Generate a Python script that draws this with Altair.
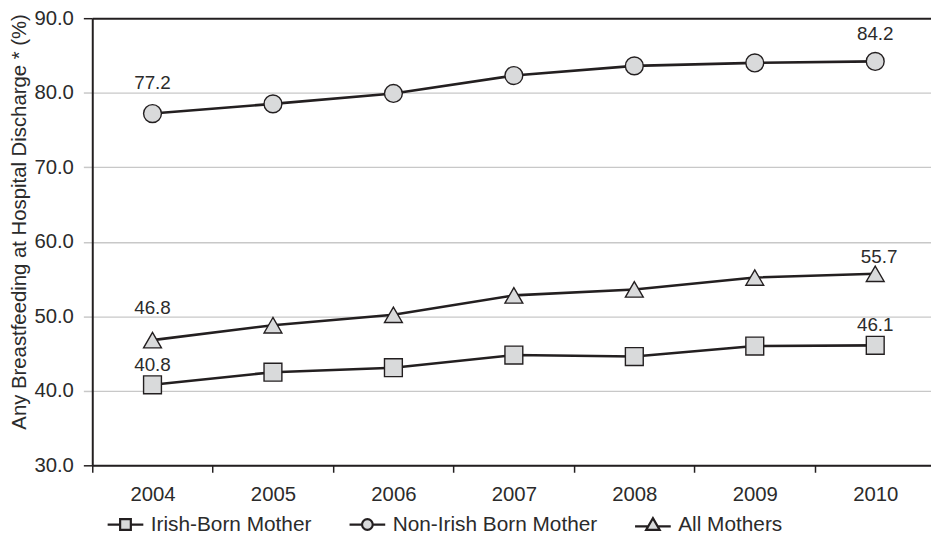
import altair as alt
import pandas as pd

years = [2004, 2005, 2006, 2007, 2008, 2009, 2010]
irish_born = [40.8, 42.5, 43.1, 44.8, 44.6, 46.0, 46.1]
non_irish_born = [77.2, 78.5, 79.9, 82.3, 83.6, 84.0, 84.2]
all_mothers = [46.8, 48.8, 50.2, 52.8, 53.6, 55.2, 55.7]
series_names = ["Irish-Born Mother", "Non-Irish Born Mother", "All Mothers"]
y_ticks = [30, 40, 50, 60, 70, 80, 90]
year_edges = [2003.5, 2004.5, 2005.5, 2006.5, 2007.5, 2008.5, 2009.5]

rows = []
for name, vals in zip(series_names, [irish_born, non_irish_born, all_mothers]):
    for yr, v in zip(years, vals):
        rows.append({"year": yr, "series": name, "value": v})
df = pd.DataFrame(rows)

FONT = "Liberation Sans"
INK = "#231f20"
TXT = "#2b2b2b"
FILL = "#d9dadb"
GRID = "#c8c8c8"
W, H = 846, 451
STEP = 121.5  # pixels per year in the reference

x_scale = alt.Scale(domain=[2003.5, 2003.5 + W / STEP], nice=False, zero=False)
y_scale = alt.Scale(domain=[30, 90], nice=False, zero=False)

x_axis = alt.Axis(
    title=None, values=year_edges, labelExpr="format(datum.value + 0.5, 'd')",
    labelOffset=STEP / 2, labelFlush=False, labelOverlap=False, labelAngle=0, grid=False,
    domainColor=INK, domainWidth=2, tickColor=INK, tickWidth=1.5, tickSize=7,
    labelFont=FONT, labelFontSize=20.5, labelColor=TXT, labelPadding=12,
)
y_axis = alt.Axis(
    values=y_ticks, format=".1f",
    title="Any Breastfeeding at Hospital Discharge * (%)",
    titleFont=FONT, titleFontSize=20.5, titleFontWeight="normal", titleColor=TXT,
    titleAngle=-90, titleX=-73, titleY=205, titleAlign="center", titleBaseline="middle",
    labelFont=FONT, labelFontSize=20.5, labelColor=TXT, labelPadding=10,
    tickSize=9, tickWidth=1.5,
    tickColor=alt.condition("datum.value == 90 || datum.value == 30", alt.value(INK), alt.value(GRID)),
    gridColor=alt.condition("datum.value == 90", alt.value(INK), alt.value(GRID)),
    gridWidth=alt.condition("datum.value == 90", alt.value(2), alt.value(1.3)),
    domainColor=INK, domainWidth=2,
)

X = alt.X("year:Q", scale=x_scale, axis=x_axis)
Xn = alt.X("year:Q", scale=x_scale)
Y = alt.Y("value:Q", scale=y_scale, axis=y_axis)
Yn = alt.Y("value:Q", scale=y_scale)

base = alt.Chart(df)

lines = base.mark_line(color=INK, strokeWidth=2.6).encode(x=X, y=Y, detail="series:N")

points = base.mark_point(filled=True, fill=FILL, stroke=INK, strokeWidth=1.4, opacity=1).encode(
    x=Xn, y=Yn,
    shape=alt.Shape("series:N", scale=alt.Scale(domain=series_names, range=["square", "circle", "triangle-up"]), legend=None),
    size=alt.Size("series:N", scale=alt.Scale(domain=series_names, range=[324, 324, 361]), legend=None),
)

legend_paths = [
    "M-1,0H-0.3M0.3,0H1M-0.3,-0.3H0.3V0.3H-0.3Z",
    "M-1,0H-0.3M0.3,0H1M-0.3,0A0.3,0.3 0 1,0 0.3,0A0.3,0.3 0 1,0 -0.3,0Z",
    "M-1,0.1H-0.24M0.24,0.1H1M0,-0.36L0.38,0.3L-0.38,0.3Z",
]
legend_layer = base.transform_filter("false").mark_point(
    filled=False, fill=FILL, stroke=INK, strokeWidth=2, opacity=1
).encode(
    shape=alt.Shape(
        "series:N",
        scale=alt.Scale(domain=series_names, range=legend_paths),
        legend=alt.Legend(
            title=None, orient="none", legendX=14, legendY=491, direction="horizontal",
            symbolSize=1296, symbolStrokeWidth=2.2,
            symbolOpacity=1, labelFont=FONT, labelFontSize=21, labelColor=TXT,
            labelOffset=6, columnPadding=33, labelLimit=0,
        ),
    )
)

label_specs = [
    ("Non-Irish Born Mother", 2004, 0, -25),
    ("Non-Irish Born Mother", 2010, 0, -22),
    ("All Mothers", 2004, 0, -26),
    ("All Mothers", 2010, 4, -11),
    ("Irish-Born Mother", 2004, 0, -14),
    ("Irish-Born Mother", 2010, 0, -14),
]
labels = []
for s, yr, dx, dy in label_specs:
    labels.append(
        base.transform_filter(
            (alt.datum.series == s) & (alt.datum.year == yr)
        ).mark_text(
            font=FONT, fontSize=19, color=TXT, align="center", baseline="alphabetic", dx=dx, dy=dy
        ).encode(x=Xn, y=Yn, text=alt.Text("value:Q", format=".1f"))
    )

chart = alt.layer(lines, points, legend_layer, *labels).resolve_scale(
    shape="independent", size="independent"
).properties(
    width=W, height=H,
    autosize=alt.AutoSizeParams(type="none"),
    padding={"left": 85, "top": 8, "right": 0, "bottom": 67},
).configure_view(stroke=None)

chart.save("out.html", embed_options={"renderer": "svg", "actions": False})
